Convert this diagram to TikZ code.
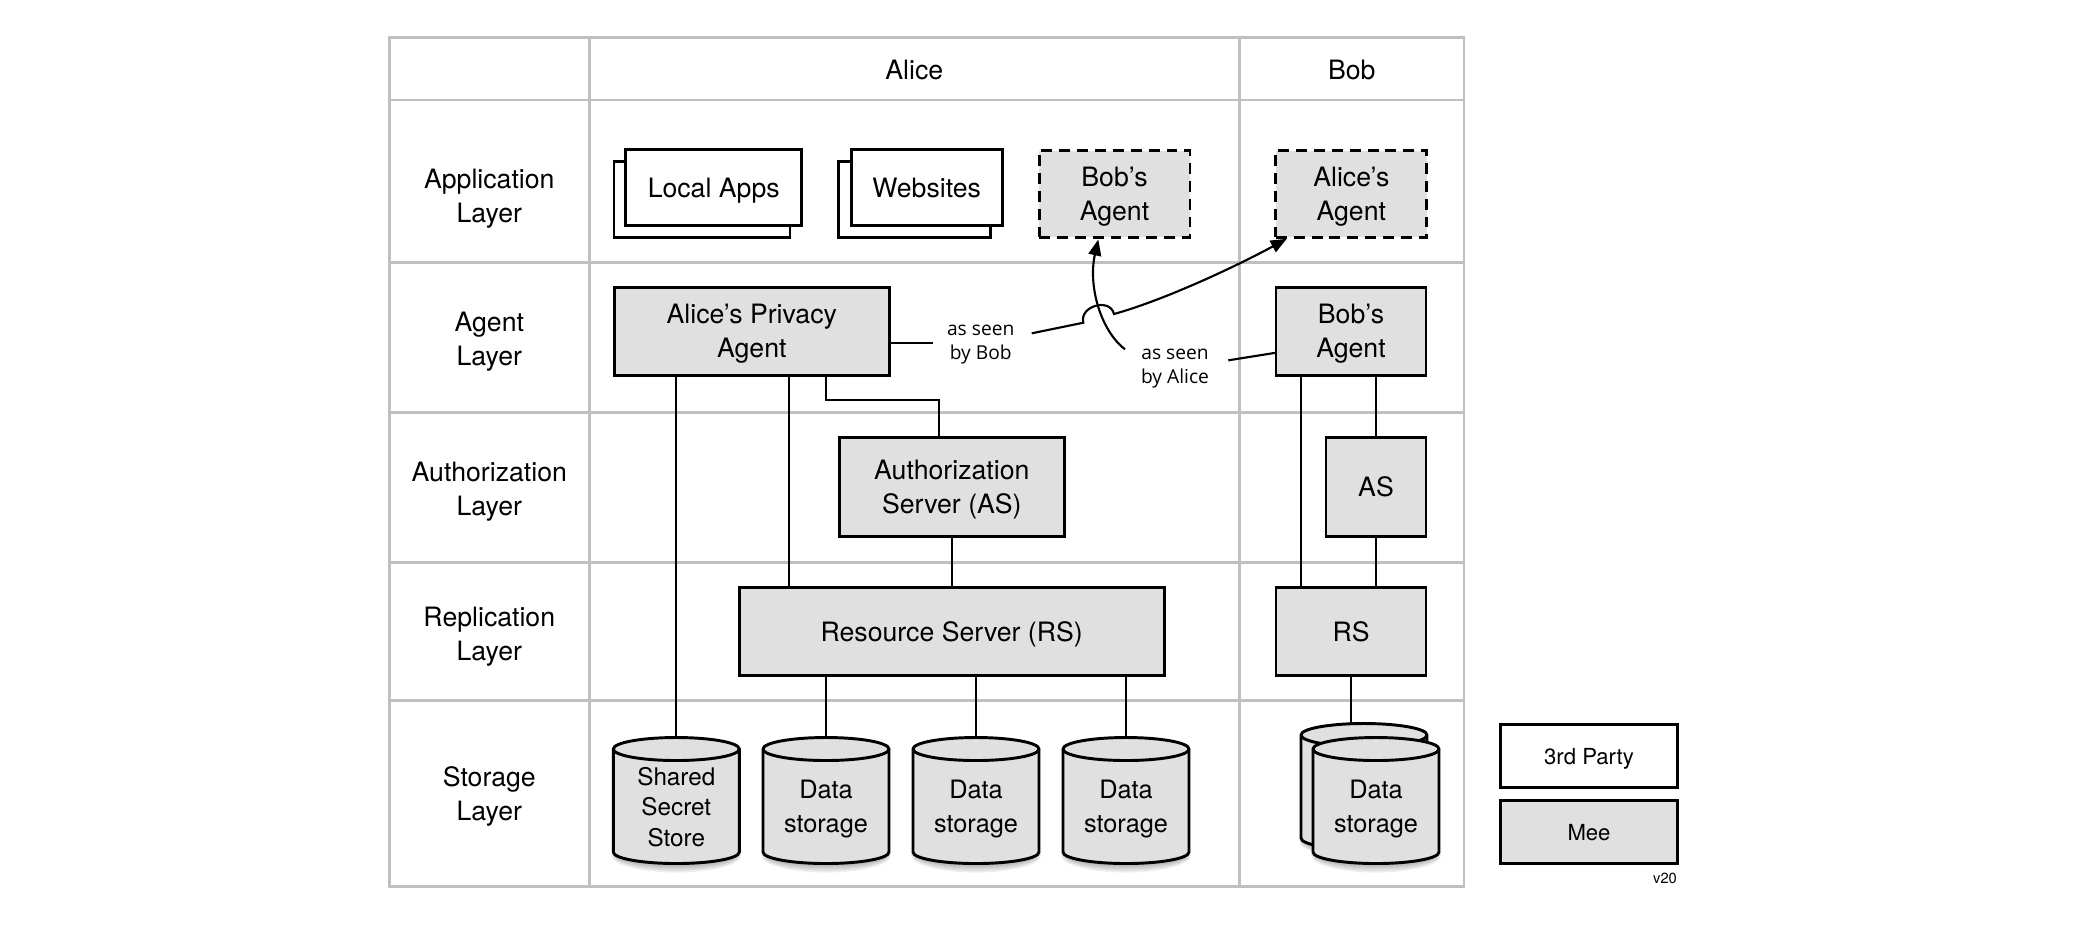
\documentclass[tikz,border=0pt]{standalone}
\usepackage{fontspec}
\setmainfont{TeX Gyre Heros}
\newfontfamily\lblfont{Open Sans}
\usetikzlibrary{arrows.meta}
\definecolor{boxgray}{RGB}{224,224,224}
\definecolor{gridgray}{RGB}{192,192,192}
% cylinder outline: #1 = centre x, #2 = centre y of the top ellipse
\newcommand\mycyl[2]{%
  \foreach \k in {1,...,5}{
    \fill[black,opacity=0.07] (#1,#2+106) ellipse [x radius=58+\k*1.4, y radius=8+\k*1.9];
  }
  \filldraw[fill=boxgray,draw=black,line width=1.1pt]
    (#1-63,#2) -- (#1-63,#2+103)
    arc [start angle=180,end angle=0,x radius=63,y radius=11.5]
    -- (#1+63,#2)
    arc [start angle=0,end angle=-180,x radius=63,y radius=11.5] -- cycle;
  \draw[line width=1.1pt] (#1-63,#2) arc [start angle=180,end angle=0,x radius=63,y radius=11.5];
}
\begin{document}
\begin{tikzpicture}[x=0.375pt,y=-0.375pt,
  font=\fontsize{10}{12.75}\selectfont,
  grid/.style={draw=gridgray,line width=1pt},
  gbox/.style={draw=black,line width=1.1pt,fill=boxgray,align=center,inner sep=0pt,text depth=0pt},
  wbox/.style={draw=black,line width=1.1pt,fill=white,align=center,inner sep=0pt,text depth=0pt},
  dbox/.style={gbox,dash pattern=on 4.1pt off 2.6pt},
  conn/.style={draw=black,line width=0.8pt},
  arr/.style={conn,-{Triangle[length=6pt,width=4.8pt]}},
  lbl/.style={font=\lblfont\fontsize{7.2}{9}\selectfont,align=center,inner sep=0pt},
  rowlbl/.style={align=center,inner sep=0pt,text depth=0pt},
  cyltext/.style={align=center,inner sep=0pt,minimum width=47pt},
]
\useasboundingbox (0,0) rectangle (2088,924);
% grid
\draw[grid] (389.3,37.3) rectangle (1464,886.7);
\foreach \yy in {100,262.3,412.7,562.7,700.7} \draw[grid] (389.3,\yy) -- (1464,\yy);
\foreach \xx in {589.3,1239.3} \draw[grid] (\xx,37.3) -- (\xx,886.7);
% headers and row labels
\node[rowlbl] (hA) at (914.3,70) {Alice};
\node[rowlbl] (hB) at (1351.7,70) {Bob};
\node[rowlbl] (lApp) at (489.3,195.5) {Application\\Layer};
\node[rowlbl] (lAg) at (489.3,339) {Agent\\Layer};
\node[rowlbl] (lAu) at (489.3,489) {Authorization\\Layer};
\node[rowlbl] (lRe) at (489.3,633.3) {Replication\\Layer};
\node[rowlbl] (lSt) at (489.3,794) {Storage\\Layer};
% application layer
\node[wbox,minimum width=66pt,minimum height=28.5pt] (LAb) at (702,199.7) {};
\node[wbox,minimum width=66pt,minimum height=28.5pt] (LA) at (713.7,187.9) {Local Apps};
\node[wbox,minimum width=56.7pt,minimum height=28.5pt] (WSb) at (914.5,199.5) {};
\node[wbox,minimum width=56.7pt,minimum height=28.5pt] (WS) at (926.7,187.9) {Websites};
\node[dbox,minimum width=56.6pt,minimum height=32.5pt] (BAD) at (1114.5,194) {Bob’s\\Agent};
\node[dbox,minimum width=56.6pt,minimum height=32.5pt] (AAD) at (1351.3,194) {Alice’s\\Agent};
% agent layer
\node[gbox,minimum width=103.1pt,minimum height=32.9pt] (APA) at (751.8,331.2) {Alice’s Privacy\\Agent};
\node[gbox,minimum width=56.25pt,minimum height=32.9pt] (BA) at (1351,331.2) {Bob’s\\Agent};
% authorization layer
\node[gbox,minimum width=84.4pt,minimum height=37.3pt] (AS) at (951.8,487) {Authorization\\Server (AS)};
\node[gbox,minimum width=37.5pt,minimum height=37.3pt] (BAS) at (1376,487) {AS};
% replication layer
\node[gbox,minimum width=159.5pt,minimum height=33.15pt] (RS) at (951.7,631.5) {Resource Server (RS)};
\node[gbox,minimum width=56.25pt,minimum height=33.15pt] (BRS) at (1351,631.5) {RS};
% storage layer
\mycyl{676.3}{749}
\mycyl{826}{749}
\mycyl{976}{749}
\mycyl{1126}{749}
\mycyl{1364}{735}
\mycyl{1376}{749}
\node[cyltext,minimum height=52pt,font=\fontsize{9.1}{11.3}\selectfont] (SSS) at (676.3,807) {Shared\\Secret\\Store};
\node[cyltext,minimum height=53.5pt,font=\fontsize{9.5}{12.5}\selectfont] (D1) at (826,809) {Data\\storage};
\node[cyltext,minimum height=53.5pt,font=\fontsize{9.5}{12.5}\selectfont] (D2) at (976,809) {Data\\storage};
\node[cyltext,minimum height=53.5pt,font=\fontsize{9.5}{12.5}\selectfont] (D3) at (1126,809) {Data\\storage};
\node[cyltext,minimum height=53.5pt,font=\fontsize{9.5}{12.5}\selectfont] (BD) at (1376,809) {Data\\storage};
\coordinate (BDtop) at (1351,724);
% legend
\node[wbox,minimum width=66.2pt,minimum height=23.8pt,font=\fontsize{8.3}{10}\selectfont] (L3) at (1589,756) {3rd Party};
\node[gbox,minimum width=66.2pt,minimum height=23.8pt,font=\fontsize{8.3}{10}\selectfont] (LM) at (1589,832) {Mee};
\node[font=\fontsize{5.5}{6}\selectfont,inner sep=0pt] (ver) at (1665,878.3) {v20};
% labels of the curved arrows
\node[lbl] (sBob) at (980.7,344.8) {as seen\\by Bob};
\node[lbl] (sAl) at (1175,368.2) {as seen\\by Alice};
% helper coordinates
\coordinate (x789) at (789.3,0);
\coordinate (x826) at (826,0);
\coordinate (elb) at (939.3,400);
\coordinate (x1301) at (1301,0);
% connectors
\draw[conn] (SSS.north |- APA.south) -- (SSS.north);
\draw[conn] (x789 |- APA.south) -- (x789 |- RS.north);
\draw[conn] (x826 |- APA.south) |- (elb) -- (elb |- AS.north);
\draw[conn] (AS.south) -- (AS.south |- RS.north);
\foreach \d in {D1,D2,D3} \draw[conn] (\d.north |- RS.south) -- (\d.north);
\draw[conn] (x1301 |- BA.south) -- (x1301 |- BRS.north);
\draw[conn] (BAS.north |- BA.south) -- (BAS.north);
\draw[conn] (BAS.south) -- (BAS.south |- BRS.north);
\draw[conn] (BRS.south) -- (BDtop);
% "as seen by Alice"
\coordinate (b1) at (1125,349.3);
\coordinate (tB) at (1098.3,239.5);
\coordinate (b2) at (1228.3,360.3);
\coordinate (b3) at (1276,352.7);
\draw[conn] (b2) -- (b3);
\draw[arr] (b1) .. controls (1100,330) and (1088,285) .. (tB);
% "as seen by Bob"
\coordinate (a0) at (889.3,343.3);
\coordinate (a0e) at (932.7,343.3);
\coordinate (a1) at (1031.7,333.3);
\coordinate (h1) at (1083.3,322.7);
\coordinate (h2) at (1114,314);
\coordinate (tA) at (1286.7,238.8);
\draw[conn] (a0) -- (a0e);
\draw[arr] (a1) -- (h1) .. controls (1079.1,306) and (1109.8,297.3) .. (h2)
  .. controls (1166.8,299.2) and (1238.6,265) .. (tA);
\end{tikzpicture}
\end{document}
